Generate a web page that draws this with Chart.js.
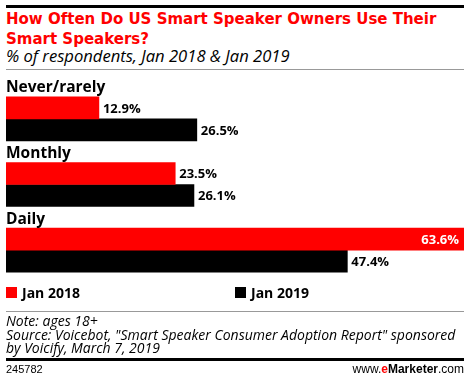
<!DOCTYPE html>
<html>
<head>
<meta charset="utf-8">
<script src="https://cdn.jsdelivr.net/npm/chart.js@4/dist/chart.umd.min.js"></script>
<style>
  html, body { margin:0; padding:0; background:#fff; }
  body { width:470px; height:382px; position:relative; overflow:hidden; font-family:"Open Sans", sans-serif; }
  .abs { position:absolute; }
  #topRule { left:6px; top:5px; width:458px; height:3px; background:#000; }
  #title { left:6px; top:9px; width:460px; font-family:"DejaVu Sans", Verdana, sans-serif; font-weight:bold; font-size:15px; line-height:20px; color:#ff0000; }
  #subtitle { left:6px; top:46px; font-family:"Open Sans", sans-serif; font-style:italic; font-size:16.6px; line-height:19px; color:#000; white-space:nowrap; }
  #rule1 { left:6px; top:69px; width:458px; height:1px; background:#999; }
  #chartBox { left:0; top:72px; width:470px; height:212px; }
  #legend { left:0; top:284px; width:470px; height:20px; }
  .lg { position:absolute; top:0; font-family:"Open Sans", sans-serif; font-weight:bold; font-size:14px; line-height:18px; color:#000; white-space:nowrap; }
  .sw { position:absolute; top:3px; width:11px; height:11px; }
  #rule2 { left:6px; top:311px; width:458px; height:1px; background:#999; }
  #notes { left:6px; top:314px; font-family:"Open Sans", sans-serif; font-style:italic; font-size:14px; line-height:13.7px; color:#000; white-space:nowrap; }
  #rule3 { left:6px; top:358px; width:458px; height:3px; background:#000; }
  #code { left:6px; top:363px; font-family:"Liberation Sans", Arial, sans-serif; font-size:11px; color:#000; }
  #brand { right:6px; top:362px; font-family:"Liberation Sans", Arial, sans-serif; font-size:12px; color:#000; }
</style>
</head>
<body>
<div class="abs" id="topRule"></div>
<div class="abs" id="title">How Often Do US Smart Speaker Owners Use Their Smart Speakers?</div>
<div class="abs" id="subtitle">% of respondents, Jan 2018 &amp; Jan 2019</div>
<div class="abs" id="rule1"></div>
<div class="abs" id="chartBox"><canvas id="c" width="470" height="212"></canvas></div>
<div class="abs" id="legend"></div>
<div class="abs" id="rule2"></div>
<div class="abs" id="notes">Note: ages 18+<br>Source: Voicebot, "Smart Speaker Consumer Adoption Report" sponsored<br>by Voicify, March 7, 2019</div>
<div class="abs" id="rule3"></div>
<div class="abs" id="code">245782</div>
<div class="abs" id="brand">www.<b style="color:#ff0000">e</b><b>Marketer</b>.com</div>
<script>
const categories = ["Never/rarely", "Monthly", "Daily"];
const seriesNames = ["Jan 2018", "Jan 2019"];
const jan2018 = [12.9, 23.5, 63.6];
const jan2019 = [26.5, 26.1, 47.4];
const seriesColors = ["#ff0000", "#000000"];

// HTML legend from series names
const legend = document.getElementById('legend');
const legendX = [6, 235];
seriesNames.forEach((name, i) => {
  const sw = document.createElement('div');
  sw.className = 'sw';
  sw.style.left = legendX[i] + 'px';
  sw.style.background = seriesColors[i];
  legend.appendChild(sw);
  const t = document.createElement('div');
  t.className = 'lg';
  t.style.left = (legendX[i] + 16) + 'px';
  t.textContent = name;
  legend.appendChild(t);
});

const labelPlugin = {
  id: 'labels',
  afterDatasetsDraw(chart) {
    const ctx = chart.ctx;
    const yScale = chart.scales.y;
    const area = chart.chartArea;
    ctx.save();
    // category labels above each group
    ctx.font = 'bold 15.5px "Open Sans", sans-serif';
    ctx.fillStyle = '#000';
    ctx.textAlign = 'left';
    ctx.textBaseline = 'middle';
    categories.forEach((c, i) => {
      ctx.fillText(c, area.left, yScale.getPixelForValue(i) - 31);
    });
    // value labels
    ctx.font = 'bold 13px "Open Sans", sans-serif';
    chart.data.datasets.forEach((ds, di) => {
      const meta = chart.getDatasetMeta(di);
      meta.data.forEach((bar, i) => {
        const txt = ds.data[i].toFixed(1) + '%';
        const w = ctx.measureText(txt).width;
        if (bar.x + 4 + w > area.right) {
          ctx.fillStyle = '#fff';
          ctx.textAlign = 'right';
          ctx.fillText(txt, bar.x - 5, bar.y + 1);
        } else {
          ctx.fillStyle = '#000';
          ctx.textAlign = 'left';
          ctx.fillText(txt, bar.x + 4, bar.y + 1);
        }
      });
    });
    ctx.restore();
  }
};

new Chart(document.getElementById('c'), {
  type: 'bar',
  data: {
    labels: categories,
    datasets: [
      { label: seriesNames[0], data: jan2018, backgroundColor: seriesColors[0], barThickness: 22 },
      { label: seriesNames[1], data: jan2019, backgroundColor: seriesColors[1], barThickness: 22 }
    ]
  },
  options: {
    indexAxis: 'y',
    responsive: false,
    animation: false,
    devicePixelRatio: 1,
    layout: { padding: { left: 6, right: 6, top: 14, bottom: 1 } },
    scales: {
      x: { display: false, min: 0, max: 63.6 },
      y: { display: false, offset: true }
    },
    plugins: { legend: { display: false }, tooltip: { enabled: false } }
  },
  plugins: [labelPlugin]
});
</script>
</body>
</html>
